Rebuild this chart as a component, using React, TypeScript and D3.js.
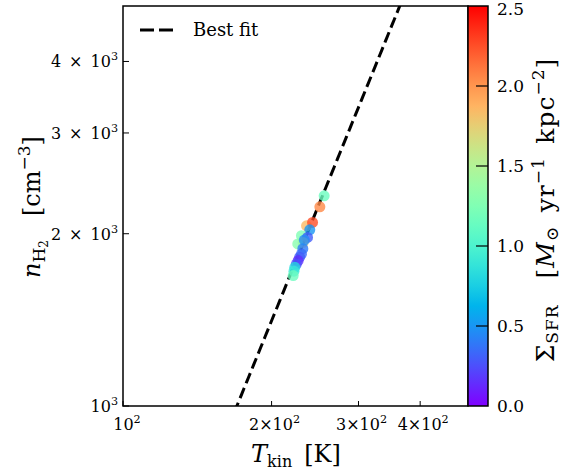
import React from "react";
import * as d3 from "d3";

// Data
const tempK = [255.6, 250.5, 235.4, 242.1, 239.0, 229.9, 236.5, 231.7, 226.0, 231.4, 229.9, 228.0, 226.4, 224.5, 222.9, 222.0, 221.2, 233.0];
const nH2 = [2330, 2229, 2065, 2093, 2032, 1984, 1970, 1931, 1920, 1883, 1843, 1820, 1795, 1770, 1747, 1720, 1690, 1950];
const sfr = [1.15, 2.05, 1.85, 2.25, 0.5, 1.25, 0.3, 1.7, 1.3, 0.4, 0.35, 0.3, 0.15, 0.25, 0.8, 0.9, 1.15, 0.45];

const fitT0 = 170.1; // T where the fit reaches 1e3
const fitSlope = 2.118;
const fitEnds = [150, 520];

const xTicks = [100, 200, 300, 400];
const yTicks = [1000, 2000, 3000, 4000];
const cbTicks = [0.0, 0.5, 1.0, 1.5, 2.0, 2.5];

const W = 566, H = 475;
const L = 123, R = 468, T = 6, B = 406;
const CB_L = 468, CB_R = 488;

const FONT = "'DejaVu Serif', 'Liberation Serif', serif";

function rainbow(v: number): string {
  const x = Math.max(0, Math.min(1, v));
  const r = Math.min(1, Math.abs(2 * x - 0.5));
  const g = Math.sin(Math.PI * x);
  const b = Math.cos((Math.PI * x) / 2);
  return d3.rgb(r * 255, g * 255, b * 255).formatHex();
}

export default function App() {
  const x = d3.scaleLog().domain([100, 500]).range([L, R]);
  const y = d3.scaleLog().domain([1000, 5000]).range([B, T]);
  const c = d3.scaleLinear().domain([0, 2.5]).range([0, 1]);
  const cy = d3.scaleLinear().domain([0, 2.5]).range([B, T]);

  const fitLine = d3
    .line<number>()
    .x((t) => x(t))
    .y((t) => y(1000 * Math.pow(t / fitT0, fitSlope)));
  const fitPts = d3.range(fitEnds[0], fitEnds[1], 2);

  const stops = d3.range(0, 1.0001, 0.05);

  const tickFs = 16;

  const sup = (base: string, exp: string) => (
    <>
      {base}
      <tspan dy={-7} fontSize={tickFs * 0.7}>{exp}</tspan>
    </>
  );

  return (
    <svg width={W} height={H} style={{ position: "absolute", left: 0, top: 0 }} fontFamily={FONT}>
      <defs>
        <clipPath id="plotclip">
          <rect x={L} y={T} width={R - L} height={B - T} />
        </clipPath>
        <linearGradient id="cbgrad" x1="0" y1="1" x2="0" y2="0">
          {stops.map((s) => (
            <stop key={s} offset={s} stopColor={rainbow(s)} />
          ))}
        </linearGradient>
      </defs>
      <rect x={0} y={0} width={W} height={H} fill="white" />

      <g clipPath="url(#plotclip)">
        <path d={fitLine(fitPts) || ""} fill="none" stroke="black" strokeWidth={3} strokeDasharray="11,5" />
        {tempK.map((t, i) => (
          <circle key={i} cx={x(t)} cy={y(nH2[i])} r={5.5} fill={rainbow(c(sfr[i]))} fillOpacity={0.8} />
        ))}
      </g>

      {/* axes frame */}
      <rect x={L} y={T} width={R - L} height={B - T} fill="none" stroke="black" strokeWidth={1.5} />

      {/* x ticks */}
      {xTicks.map((t) => (
        <g key={t}>
          <line x1={x(t)} x2={x(t)} y1={B} y2={B - 5} stroke="black" strokeWidth={1} />
          <text x={x(t) + (t === 100 ? 4 : 3)} y={B + 24} textAnchor="middle" fontSize={tickFs}>
            {t === 100 ? sup("10", "2") : sup(`${t / 100}×10`, "2")}
          </text>
        </g>
      ))}
      {/* y ticks */}
      {yTicks.map((t) => (
        <g key={t}>
          <line x1={L} x2={L + 6} y1={y(t)} y2={y(t)} stroke="black" strokeWidth={1} />
          <text x={L - 5} y={y(t) + 6} textAnchor="end" fontSize={tickFs}>
            {t === 1000 ? sup("10", "3") : sup(`${t / 1000}\u2002×\u200210`, "3")}
          </text>
        </g>
      ))}

      {/* axis labels */}
      <text x={296} y={462} textAnchor="middle" fontSize={24}>
        <tspan fontStyle="italic">T</tspan>
        <tspan fontSize={16} dy={5}>kin</tspan>
        <tspan dy={-5}>{"\u2002[K]"}</tspan>
      </text>
      <text transform={`translate(40,207) rotate(-90)`} textAnchor="middle" fontSize={24}>
        <tspan fontStyle="italic">n</tspan>
        <tspan fontSize={17} dy={5}>H</tspan>
        <tspan fontSize={12} dy={3}>2</tspan>
        <tspan dy={-8}>{"\u2003[cm"}</tspan>
        <tspan fontSize={17} dy={-10}>−3</tspan>
        <tspan dy={10}>]</tspan>
      </text>

      {/* legend */}
      <line x1={140} x2={176} y1={30} y2={30} stroke="black" strokeWidth={3} strokeDasharray="14,5" />
      <text x={193} y={36} fontSize={18}>Best fit</text>

      {/* colorbar */}
      <rect x={CB_L} y={T} width={CB_R - CB_L} height={B - T} fill="url(#cbgrad)" />
      <rect x={CB_L} y={T} width={CB_R - CB_L} height={B - T} fill="none" stroke="black" strokeWidth={1.5} />
      {cbTicks.map((t) => (
        <g key={t}>
          {t > 0 && t < 2.5 && (
            <line x1={CB_R} x2={CB_R - 12} y1={cy(t)} y2={cy(t)} stroke="black" strokeWidth={1.2} />
          )}
          <text x={497} y={Math.max(cy(t) + 6, 15)} fontSize={17}>{t.toFixed(1)}</text>
        </g>
      ))}
      <text transform={`translate(554,210) rotate(-90)`} textAnchor="middle" fontSize={25} letterSpacing={1}>
        <tspan>Σ</tspan>
        <tspan fontSize={17} dy={4}>SFR</tspan>
        <tspan dy={-4}>{"\u2003["}</tspan>
        <tspan fontStyle="italic">M</tspan>
        <tspan fontSize={17} dy={4}>⊙</tspan>
        <tspan dy={-4}>{"\u2002yr"}</tspan>
        <tspan fontSize={17} dy={-10}>−1</tspan>
        <tspan dy={10}>{"\u2002kpc"}</tspan>
        <tspan fontSize={17} dy={-10}>−2</tspan>
        <tspan dy={10}>]</tspan>
      </text>
    </svg>
  );
}
